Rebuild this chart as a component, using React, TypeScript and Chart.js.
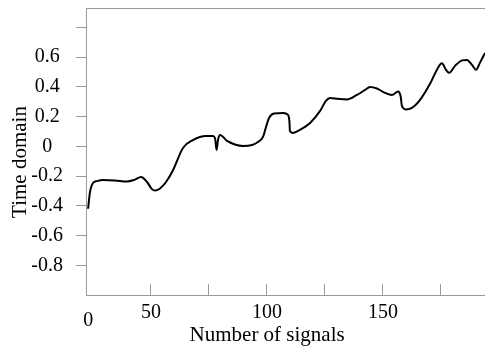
import React, { useEffect, useRef } from 'react';
import { Chart, registerables } from 'chart.js';

Chart.register(...registerables);

// Data
const signalCounts = [
  22.9, 23.7, 25.0, 26.7, 29.3, 34.5, 39.7, 43.1, 45.7, 48.3, 50.4, 51.7, 53.9, 56.5, 59.5, 63.8,
  68.1, 73.7, 76.7, 77.6, 78.3, 78.9, 79.8, 82.8, 86.2, 89.7, 93.6, 96.1, 98.3, 99.6, 100.9, 103.0,
  106.9, 109.1, 109.7, 109.9, 111.2, 114.2, 118.6, 122.9, 125.4, 127.2, 130.6, 134.5, 138.8, 142.3,
  144.4, 147.4, 150.9, 153.9, 156.5, 157.6, 158.2, 159.9, 162.5, 166.0, 170.3, 173.7, 175.4, 177.2,
  178.5, 181.1, 184.1, 186.2, 188.4, 190.1, 191.8, 194.0,
];
const timeDomain = [
  -0.42, -0.31, -0.247, -0.234, -0.227, -0.23, -0.237, -0.224, -0.207, -0.24, -0.288, -0.298, -0.284,
  -0.24, -0.161, -0.011, 0.042, 0.069, 0.069, 0.056, -0.025, 0.042, 0.076, 0.036, 0.012, 0.002, 0.009,
  0.029, 0.063, 0.13, 0.19, 0.221, 0.224, 0.211, 0.164, 0.103, 0.09, 0.11, 0.157, 0.238, 0.305, 0.325,
  0.319, 0.315, 0.345, 0.379, 0.399, 0.389, 0.359, 0.345, 0.369, 0.339, 0.271, 0.248, 0.258, 0.312,
  0.42, 0.527, 0.558, 0.514, 0.494, 0.541, 0.578, 0.581, 0.547, 0.514, 0.561, 0.628,
];

const xTickValues = [23, 50, 75, 100, 125, 150, 175];
const xTickLabels = ['0', '50', '', '100', '', '150', ''];
const yTickValues = [-0.8, -0.6, -0.4, -0.2, 0, 0.2, 0.4, 0.6, 0.8];
const yTickLabels = ['-0.8', '-0.6', '-0.4', '-0.2', '0', '0.2', '0.4', '0.6', ''];
const xRange = [22, 194];
const yRange = [-1, 0.93];

const FAMILY = "'Liberation Serif', 'Times New Roman', serif";
const AXIS = '#9a9a9a';

export default function App() {
  const ref = useRef<HTMLCanvasElement | null>(null);

  useEffect(() => {
    if (!ref.current) return;
    const chart = new Chart(ref.current, {
      type: 'line',
      data: {
        datasets: [
          {
            data: signalCounts.map((x, i) => ({ x, y: timeDomain[i] })),
            borderColor: '#000',
            borderWidth: 2,
            pointRadius: 0,
            fill: false,
            cubicInterpolationMode: 'monotone',
          },
        ],
      },
      options: {
        animation: false,
        responsive: false,
        devicePixelRatio: 1,
        layout: { padding: { top: 8, left: 0, right: 0, bottom: 0 } },
        plugins: { legend: { display: false }, tooltip: { enabled: false } },
        scales: {
          x: {
            type: 'linear',
            position: 'bottom',
            min: xRange[0],
            max: xRange[1],
            afterBuildTicks: (s: any) => {
              s.ticks = xTickValues.map((v) => ({ value: v }));
            },
            afterFit: (s: any) => {
              s.height = 58;
              s.paddingLeft = 0;
              s.paddingRight = 0;
            },
            grid: {
              drawOnChartArea: false,
              drawTicks: true,
              tickLength: -11,
              tickWidth: 1,
              tickColor: (c: any) => (xTickLabels[c.index] === '0' ? 'rgba(0,0,0,0)' : AXIS),
            },
            border: { color: AXIS, width: 1 },
            ticks: {
              autoSkip: false,
              maxRotation: 0,
              padding: 17,
              color: '#000',
              font: (c: any) => ({
                family: FAMILY,
                size: 20,
                lineHeight: xTickLabels[c.index] === '0' ? 2 : 1.2,
              }),
              callback: (_v: any, i: number) => xTickLabels[i],
            },
            title: {
              display: true,
              text: 'Number of signals       ',
              color: '#000',
              font: { family: FAMILY, size: 21 },
              padding: { top: 0, bottom: 5 },
            },
          },
          xTop: {
            type: 'linear',
            position: 'top',
            display: true,
            afterFit: (s: any) => {
              s.height = 0;
              s.paddingLeft = 0;
              s.paddingRight = 0;
            },
            grid: { drawOnChartArea: false, drawTicks: false },
            border: { color: AXIS, width: 1 },
            ticks: { display: false },
          },
          y: {
            type: 'linear',
            min: yRange[0],
            max: yRange[1],
            afterBuildTicks: (s: any) => {
              s.ticks = yTickValues.map((v) => ({ value: v }));
            },
            afterFit: (s: any) => {
              s.width = 86;
              s.paddingTop = 0;
              s.paddingBottom = 0;
            },
            grid: {
              drawOnChartArea: false,
              drawTicks: true,
              tickLength: 10,
              tickWidth: 1,
              tickColor: AXIS,
            },
            border: { color: AXIS, width: 1 },
            ticks: {
              crossAlign: 'center',
              padding: 13,
              color: '#000',
              font: { family: FAMILY, size: 20 },
              callback: (_v: any, i: number) => yTickLabels[i],
            },
            title: {
              display: true,
              text: 'Time domain    ',
              color: '#000',
              font: { family: FAMILY, size: 21 },
              padding: { top: 8, bottom: 0 },
            },
          },
        },
      } as any,
    });
    return () => chart.destroy();
  }, []);

  return (
    <div style={{ position: 'absolute', left: 0, top: 0, width: 485, height: 353, background: '#fff' }}>
      <canvas ref={ref} width={485} height={353} style={{ display: 'block' }} />
    </div>
  );
}
